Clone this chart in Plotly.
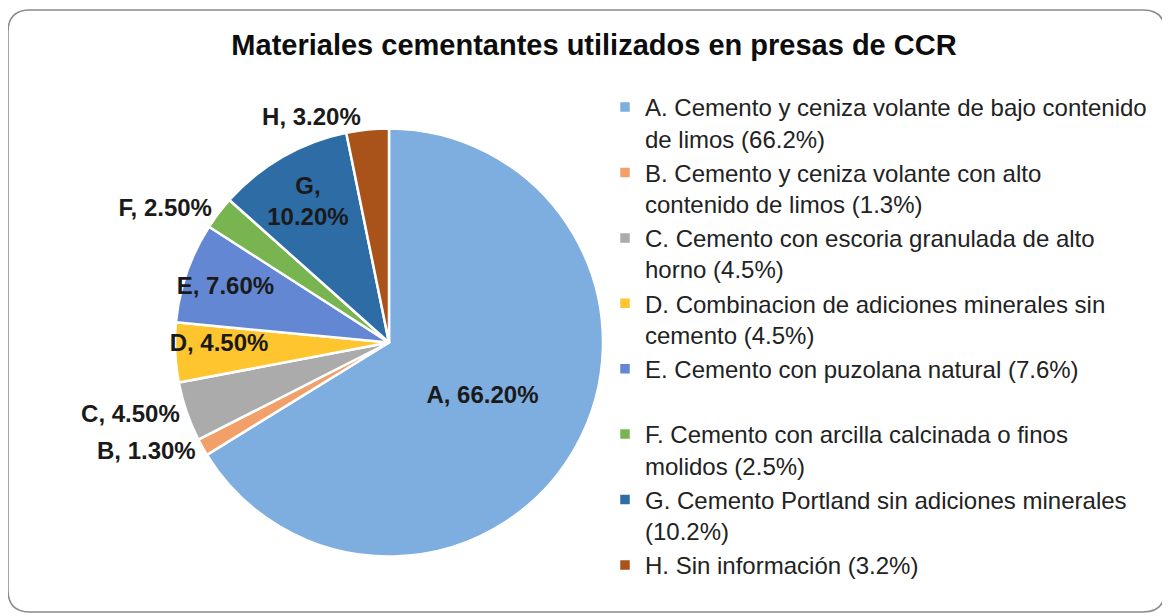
import plotly.graph_objects as go

labels = ["A", "B", "C", "D", "E", "F", "G", "H"]
values = [66.2, 1.3, 4.5, 4.5, 7.6, 2.5, 10.2, 3.2]
legend_names = [
    "A. Cemento y ceniza volante de bajo contenido<br>de limos (66.2%)",
    "B. Cemento y ceniza volante con alto<br>contenido de limos (1.3%)",
    "C. Cemento con escoria granulada de alto<br>horno (4.5%)",
    "D. Combinacion de adiciones minerales sin<br>cemento (4.5%)",
    "E. Cemento con puzolana natural (7.6%)<br>\u00a0",
    "F. Cemento con arcilla calcinada o finos<br>molidos (2.5%)",
    "G. Cemento Portland sin adiciones minerales<br>(10.2%)",
    "H. Sin información (3.2%)",
]
text_templates = [
    "%{customdata}, %{value:.2f}%",
    "%{customdata}, %{value:.2f}%",
    "%{customdata}, %{value:.2f}%",
    "%{customdata}, %{value:.2f}%",
    "%{customdata}, %{value:.2f}%",
    "%{customdata}, %{value:.2f}%",
    "%{customdata},<br>%{value:.2f}%",
    "%{customdata}, %{value:.2f}%",
]
text_positions = ["inside", "outside", "outside", "inside", "inside", "outside", "inside", "outside"]
colors = ["#7DAEDF", "#F2A06A", "#ABABAB", "#FFC52E", "#6387D2", "#78B44F", "#2E6CA6", "#A9521A"]

W, H = 1170, 616
fig = go.Figure()
fig.add_trace(go.Pie(
    labels=legend_names,
    values=values,
    customdata=labels,
    texttemplate=text_templates,
    textposition=text_positions,
    insidetextorientation="horizontal",
    sort=False,
    direction="clockwise",
    rotation=0,
    marker=dict(colors=colors, line=dict(color="white", width=2.5)),
    textfont=dict(family="Liberation Sans", size=24, color="#1a1a1a", weight="bold"),
    domain=dict(x=[167 / W, 595 / W], y=[1 - 549 / H, 1 - 120 / H]),
    hoverinfo="skip",
))

x0, x1, y0, y1, r = 0, 1157, 12, 614, 22
path = (f"M {x0+r},{y0} L {x1-r},{y0} Q {x1},{y0} {x1},{y0+r} L {x1},{y1-r} Q {x1},{y1} {x1-r},{y1} "
        f"L {x0+r},{y1} Q {x0},{y1} {x0},{y1-r} L {x0},{y0+r} Q {x0},{y0} {x0+r},{y0} Z")

fig.update_layout(
    width=W, height=H,
    margin=dict(l=0, r=0, t=0, b=0),
    paper_bgcolor="white",
    title=dict(text="<b>Materiales cementantes utilizados en presas de CCR</b>",
               x=586 / W, xanchor="center", y=1 - 37 / H, yanchor="middle",
               font=dict(family="Liberation Sans", size=29, color="#0d0d0d")),
    uniformtext=dict(minsize=24, mode="show"),
    legend=dict(x=597 / W, xanchor="left", y=1 - 77 / H, yanchor="top",
                valign="top", tracegroupgap=0,
                font=dict(family="Liberation Sans", size=24, color="#222222")),
    shapes=[dict(type="path", xref="paper", yref="paper", xsizemode="pixel", ysizemode="pixel",
                 xanchor=0, yanchor=0, path=path, line=dict(color="#8a8a8a", width=1.5), layer="below")],
)
fig.write_html("out.html")
